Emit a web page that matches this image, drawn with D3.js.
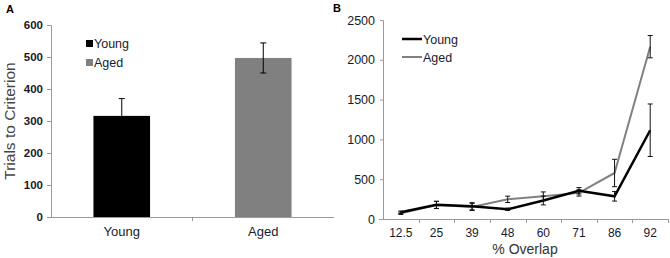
<!DOCTYPE html>
<html><head><meta charset="utf-8">
<script src="https://cdn.jsdelivr.net/npm/d3@7"></script>
<style>body{margin:0;background:#fff}svg{display:block;font-family:"Liberation Sans",Arial,sans-serif}</style>
</head><body>
<script>
// Panel A data
const groupsA = ["Young", "Aged"];
const meanA = [316, 497];
const errA = [54, 47];
const ticksA = [0, 100, 200, 300, 400, 500, 600];
// Panel B data
const overlap = ["12.5", "25", "39", "48", "60", "71", "86", "92"];
const youngB = [85, 178, 160, 122, 232, 355, 285, 1115];
const youngErrB = [15, 45, 45, 15, 55, 40, 60, 330];
const agedB = [72, 176, 152, 247, 285, 328, 578, 2165];
const agedErrB = [15, 45, 45, 40, 55, 40, 172, 140];
const ticksB = [0, 500, 1000, 1500, 2000, 2500];
const colors = {Young: "#000000", Aged: "#808080"};

const svg = d3.select("body").append("svg").attr("width", 670).attr("height", 258);
const axisCol = "#9a9a9a", txtCol = "#1a1a2a";

// ---------- Panel A ----------
const xA = d3.scaleBand().domain(groupsA).range([51, 334]).paddingInner(0.6).paddingOuter(0.3);
const yA = d3.scaleLinear().domain([0, 600]).range([217, 25]);
const gA = svg.append("g");
gA.selectAll("rect.bar").data(groupsA).join("rect")
  .attr("x", d => xA(d)).attr("width", xA.bandwidth())
  .attr("y", (d, i) => yA(meanA[i])).attr("height", (d, i) => yA(0) - yA(meanA[i]))
  .attr("fill", d => colors[d]);
groupsA.forEach((g, i) => {
  const cx = xA(g) + xA.bandwidth() / 2;
  const lo = i === 0 ? meanA[i] : meanA[i] - errA[i];
  const hi = meanA[i] + errA[i];
  gA.append("line").attr("x1", cx).attr("x2", cx).attr("y1", yA(lo)).attr("y2", yA(hi)).attr("stroke", "#000").attr("stroke-width", 1);
  gA.append("line").attr("x1", cx - 3).attr("x2", cx + 3).attr("y1", yA(hi)).attr("y2", yA(hi)).attr("stroke", "#000");
  if (i > 0) gA.append("line").attr("x1", cx - 3).attr("x2", cx + 3).attr("y1", yA(lo)).attr("y2", yA(lo)).attr("stroke", "#000");
});
const yAxA = gA.append("g").attr("transform", "translate(51,0)").call(d3.axisLeft(yA).tickValues(ticksA).tickSize(4).tickPadding(4).tickFormat(d3.format("d")));
yAxA.select(".domain").attr("stroke", axisCol).attr("d", "M-4,25.5H0.5V217.5");
yAxA.selectAll(".tick line").attr("stroke", axisCol);
yAxA.selectAll("text").attr("fill", txtCol).attr("font-size", 11.5).attr("font-family", "Liberation Sans, Arial").style("font-weight", "bold");
const xAxA = gA.append("g").attr("transform", "translate(0,217)");
xAxA.append("line").attr("x1", 47).attr("x2", 334).attr("y1", 0.5).attr("y2", 0.5).attr("stroke", axisCol);
xAxA.append("line").attr("x1", 192.5).attr("x2", 192.5).attr("y1", 0).attr("y2", 4).attr("stroke", axisCol);
xAxA.selectAll("text").data(groupsA).join("text")
  .attr("x", d => xA(d) + xA.bandwidth() / 2).attr("y", 19).attr("text-anchor", "middle")
  .attr("font-size", 13).attr("fill", txtCol).text(d => d);
svg.append("text").attr("transform", "translate(15,121) rotate(-90)").attr("text-anchor", "middle")
  .attr("font-size", 15.5).attr("fill", "#444").text("Trials to Criterion");
svg.append("text").attr("x", 6).attr("y", 13).attr("font-size", 11).attr("font-weight", "bold").text("A");
groupsA.forEach((g, i) => {
  const y = 48 + i * 19;
  svg.append("rect").attr("x", 86).attr("y", y - 8).attr("width", 7).attr("height", 7).attr("fill", colors[g]);
  svg.append("text").attr("x", 94).attr("y", y).attr("font-size", 12.5).attr("fill", txtCol).text(g);
});

// ---------- Panel B ----------
const xB = d3.scaleBand().domain(overlap).range([383, 668]);
const yB = d3.scaleLinear().domain([0, 2500]).range([219, 20]);
const gB = svg.append("g");
const cxB = d => xB(d) + xB.bandwidth() / 2;
const yAxB = gB.append("g").attr("transform", "translate(383,0)").call(d3.axisLeft(yB).tickValues(ticksB).tickSize(3).tickPadding(5).tickFormat(d3.format("d")));
yAxB.select(".domain").attr("stroke", axisCol).attr("d", "M-3,20.5H0.5V219.5");
yAxB.selectAll(".tick line").attr("stroke", axisCol);
yAxB.selectAll("text").attr("fill", txtCol).attr("font-size", 12.5).attr("font-family", "Liberation Sans, Arial");
const xAxB = gB.append("g").attr("transform", "translate(0,219)");
xAxB.append("line").attr("x1", 379).attr("x2", 668).attr("y1", 0.5).attr("y2", 0.5).attr("stroke", axisCol);
xAxB.selectAll("line.tk").data(overlap).join("line").attr("class", "tk")
  .attr("x1", d => Math.round(xB(d) + xB.bandwidth()) + 0.5).attr("x2", d => Math.round(xB(d) + xB.bandwidth()) + 0.5)
  .attr("y1", 0).attr("y2", 4).attr("stroke", axisCol);
xAxB.selectAll("text").data(overlap).join("text")
  .attr("x", cxB).attr("y", 18).attr("text-anchor", "middle").attr("font-size", 12).attr("fill", txtCol).text(d => d);
svg.append("text").attr("x", 525).attr("y", 254).attr("text-anchor", "middle").attr("font-size", 14).attr("fill", "#333").text("% Overlap");
svg.append("text").attr("x", 333).attr("y", 12).attr("font-size", 11).attr("font-weight", "bold").text("B");

const series = [
  {name: "Aged", vals: agedB, errs: agedErrB, w: 2},
  {name: "Young", vals: youngB, errs: youngErrB, w: 2.5}
];
const line = d3.line().x((d, i) => cxB(overlap[i])).y(d => yB(d));
series.forEach(s => {
  gB.append("path").attr("d", line(s.vals)).attr("fill", "none").attr("stroke", colors[s.name]).attr("stroke-width", s.w);
});
series.forEach(s => {
  s.vals.forEach((v, i) => {
    const x = cxB(overlap[i]);
    const y1 = yB(v - s.errs[i]), y2 = yB(v + s.errs[i]);
    gB.append("line").attr("x1", x).attr("x2", x).attr("y1", y1).attr("y2", y2).attr("stroke", "#111").attr("stroke-width", 1);
    [y1, y2].forEach(yy => gB.append("line").attr("x1", x - 2.5).attr("x2", x + 2.5).attr("y1", yy).attr("y2", yy).attr("stroke", "#111").attr("stroke-width", 1));
  });
});
[{n: "Young", w: 2.5}, {n: "Aged", w: 2}].forEach((d, i) => {
  const y = 39 + i * 18;
  svg.append("line").attr("x1", 402).attr("x2", 422).attr("y1", y).attr("y2", y).attr("stroke", colors[d.n]).attr("stroke-width", d.w);
  svg.append("text").attr("x", 423).attr("y", y + 4.5).attr("font-size", 12.5).attr("fill", txtCol).text(d.n);
});
</script>
</body></html>
